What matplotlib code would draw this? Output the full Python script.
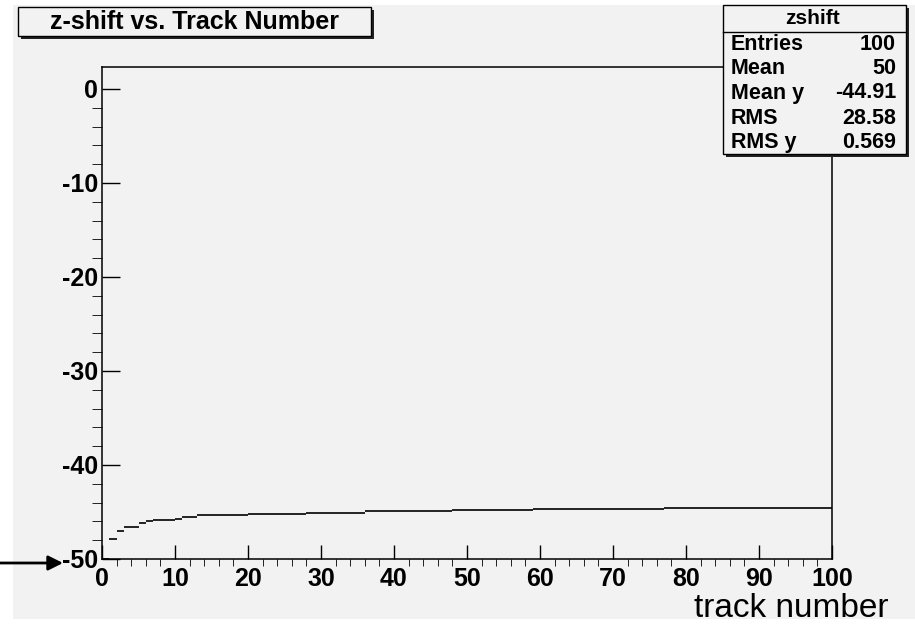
import numpy as np
import matplotlib
matplotlib.use('Agg')
import matplotlib.pyplot as plt
from matplotlib.patches import Rectangle

plt.rcParams['font.family'] = ['Liberation Sans', 'DejaVu Sans']
plt.rcParams['axes.unicode_minus'] = False

# valores: cada tramo va de run_edges[i] a run_edges[i+1]
run_edges = [0, 1, 2, 3, 5, 6, 7, 10, 11, 13, 20, 28, 36, 48, 59, 77, 100]
run_values = [-50.0, -47.9, -47.0, -46.6, -46.2, -46.0, -45.85, -45.7, -45.5,
              -45.3, -45.17, -45.06, -44.9, -44.78, -44.67, -44.53]

stat_names = ['Entries', 'Mean', 'Mean y', 'RMS', 'RMS y']
stat_values = ['100', '50', '-44.91', '28.58', '0.569']

title = 'z-shift vs. Track Number'
hist_name = 'zshift'
x_label = 'track number'

W, H = 915, 625
BG = '#f2f2f2'


def fx(px):
    return px / W


def fy(py):
    return 1 - py / H


# expandir tramos a bins de ancho 1
widths = np.diff(run_edges)
bin_vals = np.repeat(run_values, widths)
bin_lo = np.arange(run_edges[0], run_edges[-1])
bin_hi = bin_lo + 1

fig = plt.figure(figsize=(W / 100, H / 100), dpi=100, facecolor='white')

# fondo gris del canvas
fig.add_artist(Rectangle((fx(13), fy(619)), fx(W) - fx(13), fy(5) - fy(619),
                         transform=fig.transFigure, facecolor=BG,
                         edgecolor='none', zorder=-5))

ax = fig.add_axes([fx(102), fy(559), fx(832) - fx(102), fy(67) - fy(559)])
ax.set_facecolor(BG)
ax.hlines(bin_vals, bin_lo, bin_hi, colors='black', linewidth=1.2, clip_on=False)
ax.set_xlim(0, 100)
ax.set_ylim(-50, 2.34)

ax.set_xticks(np.arange(0, 101, 10))
ax.set_xticks(np.arange(0, 101, 2), minor=True)
ax.set_yticks(np.arange(-50, 1, 10))
ax.set_yticks(np.arange(-50, 2, 2), minor=True)
ax.tick_params(direction='in', top=False, right=False, labelsize=18, width=1.0)
ax.tick_params(axis='x', which='major', length=10, pad=6)
ax.tick_params(axis='x', which='minor', length=5)
ax.tick_params(axis='y', which='major', length=13, pad=3)
ax.tick_params(axis='y', which='minor', length=7)
for lab in ax.get_xticklabels() + ax.get_yticklabels():
    lab.set_fontweight('bold')
for sp in ax.spines.values():
    sp.set_linewidth(1.1)

fig.text(fx(888), fy(617), x_label, fontsize=24, ha='right', va='baseline')

# flecha en -50
ax.annotate('', xy=(fx(63), fy(563)), xytext=(0, fy(563)),
            xycoords='figure fraction', textcoords='figure fraction',
            arrowprops=dict(arrowstyle='-|>', color='black', lw=2,
                            mutation_scale=22, shrinkA=0, shrinkB=0))


def root_box(x0, y0, x1, y1):
    # sombra + caja al estilo ROOT
    fig.add_artist(Rectangle((fx(x0 + 3), fy(y1 + 3)), fx(x1) - fx(x0), fy(y0) - fy(y1),
                             transform=fig.transFigure, facecolor='#222222',
                             edgecolor='none', zorder=6))
    fig.add_artist(Rectangle((fx(x0), fy(y1)), fx(x1) - fx(x0), fy(y0) - fy(y1),
                             transform=fig.transFigure, facecolor=BG,
                             edgecolor='black', linewidth=1.0, zorder=7))


# caja de titulo
root_box(18, 7, 371, 36)
fig.text(fx(194), fy(22), title, fontsize=18, fontweight='bold',
         ha='center', va='center', zorder=8)

# caja de estadisticas
root_box(723, 5, 906, 154)
fig.add_artist(plt.Line2D([fx(723), fx(906)], [fy(32), fy(32)],
                          transform=fig.transFigure, color='black',
                          linewidth=1.0, zorder=8))
fig.text(fx(813), fy(19), hist_name, fontsize=15, fontweight='bold',
         ha='center', va='center', zorder=8)
row_y = [45, 69, 93, 118, 142]
for name, val, yy in zip(stat_names, stat_values, row_y):
    fig.text(fx(731), fy(yy), name, fontsize=15.5, fontweight='bold',
             ha='left', va='center', zorder=8)
    fig.text(fx(896), fy(yy), val, fontsize=15.5, fontweight='bold',
             ha='right', va='center', zorder=8)

fig.savefig('out.png', dpi=100, facecolor=fig.get_facecolor())
